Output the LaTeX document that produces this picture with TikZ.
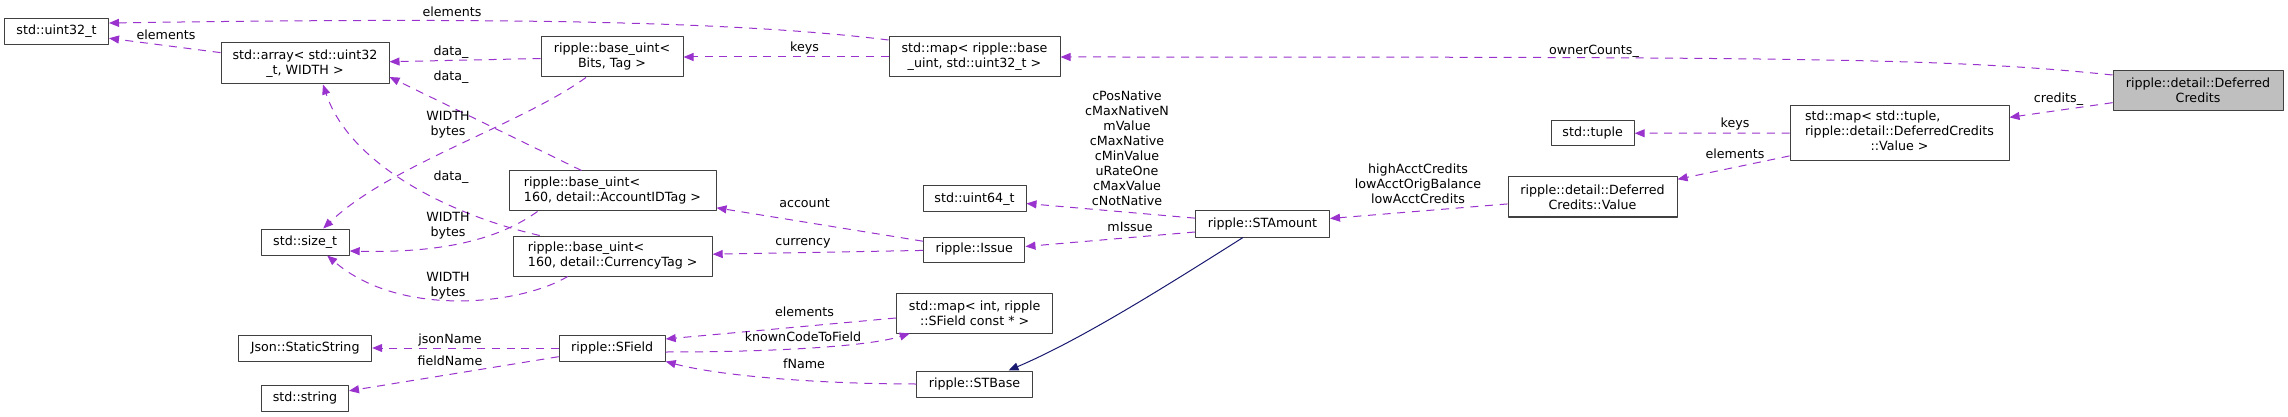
\documentclass[tikz,border=0pt]{standalone}
\usepackage{fontspec}
\setmainfont{DejaVu Sans}
\usetikzlibrary{calc,arrows.meta}
\definecolor{edgepurple}{RGB}{154,50,205}
\definecolor{navyline}{RGB}{25,25,112}
\definecolor{boxgray}{RGB}{64,64,64}
\definecolor{focusgray}{RGB}{191,191,191}

\begin{document}
\begin{tikzpicture}[x=0.75pt,y=-0.75pt,line join=round,
    cls/.style={draw=boxgray,fill=white,line width=0.75pt,inner sep=0pt,align=center,
      minimum height=19.5pt,font=\fontsize{9.5}{11.25}\selectfont},
    lbl/.style={inner sep=0pt,align=center,font=\fontsize{9.5}{11.25}\selectfont},
    dep/.style={draw=edgepurple,line width=0.75pt,dash pattern=on 6pt off 5pt,
      -{Triangle[length=7.5pt,width=6pt]}},
    inh/.style={draw=navyline,line width=0.75pt,-{Triangle[length=7.5pt,width=6pt]}}]
        \useasboundingbox (0,0) rectangle (2288,417);
        % classes
        \node[cls,minimum width=78pt] (uint32) at (56.5,31.5) {std::uint32\_t};
        \node[cls,minimum width=126pt,minimum height=30.75pt] (stdarray) at (305,63.5) {std::array< std::uint32\\\_t, WIDTH >};
        \node[cls,minimum width=106.5pt,minimum height=30pt] (bitsuint) at (612,57) {ripple::base\_uint<\\Bits, Tag >};
        \node[cls,minimum width=128.25pt,minimum height=30pt] (mapuint) at (974.5,57) {std::map< ripple::base\\\_uint, std::uint32\_t >};
        \node[cls,minimum width=155.25pt,minimum height=30pt,align=left] (acctuint) at (612.5,191) {ripple::base\_uint<\\ 160, detail::AccountIDTag >};
        \node[cls,minimum width=149.25pt,minimum height=30pt,align=left] (curuint) at (612.7,256) {ripple::base\_uint<\\ 160, detail::CurrencyTag >};
        \node[cls,minimum width=66pt] (sizet) at (305.2,242) {std::size\_t};
        \node[cls,minimum width=99.75pt] (jsonstr) at (305.2,348) {Json::StaticString};
        \node[cls,minimum width=65.25pt] (stdstring) at (305,398) {std::string};
        \node[cls,minimum width=77.25pt] (uint64) at (974.5,199) {std::uint64\_t};
        \node[cls,minimum width=76pt,minimum height=18.75pt] (issue) at (974.3,249.5) {ripple::Issue};
        \node[cls,minimum width=117.4pt,minimum height=30pt] (mapsfield) at (974.7,313) {std::map< int, ripple\\::SField const * >};
        \node[cls,minimum width=79.5pt] (sfield) at (612.2,348) {ripple::SField};
        \node[cls,minimum width=86.6pt] (stbase) at (974.5,384) {ripple::STBase};
        \node[cls,minimum width=100.5pt] (stamount) at (1262.5,224) {ripple::STAmount};
        \node[cls,minimum width=62.25pt,minimum height=18.75pt] (tuple) at (1592.7,133.3) {std::tuple};
        \node[cls,minimum width=126.75pt,minimum height=30pt] (dcvalue) at (1592.5,197) {ripple::detail::Deferred\\Credits::Value};
        \node[cls,minimum width=164.25pt,minimum height=41pt] (maptuple) at (1899.5,133)
          {\begin{tabular}{@{}c@{}}\multicolumn{1}{@{}l@{}}{std::map< std::tuple,}\\ripple::detail::DeferredCredits\\::Value >\end{tabular}};
        \node[cls,fill=focusgray,minimum width=127.5pt,minimum height=29.7pt] (deferred) at (2198,90.5) {ripple::detail::Deferred\\Credits};
        % members
        \draw[dep] (stdarray) -- (uint32) node[lbl] (lelem1) at (166,35) {elements};
        \draw[dep] ($(mapuint.west)+(0,-17)$) .. controls (720,19) and (450,18) .. ($(uint32.east)+(0,-8.5)$)
          node[lbl] (lelem2) at (452,12) {elements};
        \draw[dep] (bitsuint) -- (stdarray) node[lbl] (ldata1) at (451,52) {data\_};
        \draw[dep] ($(acctuint.north)+(-31,0)$) -- ($(stdarray.east)+(0,13.5)$) node[lbl] (ldata2) at (451,77) {data\_};
        \draw[dep] ($(curuint.north)+(-73,0)$) .. controls (450,215) and (350,165) .. ($(stdarray.south)+(18,0)$)
          node[lbl] (ldata3) at (451,177) {data\_};
        \draw[dep] ($(bitsuint.south)+(-26,0)$) .. controls (520,125) and (390,165) .. ($(sizet.north)+(18,0)$)
          node[lbl] (lwidth1) at (448,125) {WIDTH\\bytes};
        \draw[dep] ($(acctuint.south)+(-75,0)$) .. controls (495,242) and (435,253) .. ($(sizet.east)+(0,9)$)
          node[lbl] (lwidth2) at (448,225.5) {WIDTH\\bytes};
        \draw[dep] ($(curuint.south)+(-45,0)$) .. controls (520,305) and (400,318) .. ($(sizet.south)+(22,0)$)
          node[lbl] (lwidth3) at (448,285.5) {WIDTH\\bytes};
        \draw[dep] (mapuint) -- (bitsuint) node[lbl] (lkeys1) at (804.5,48) {keys};
        \draw[dep] ($(deferred.west)+(0,-15.5)$) .. controls (1950,58) and (1800,57) .. (mapuint.east)
          node[lbl] (lowner) at (1594,51) {ownerCounts\_};
        \draw[dep] (deferred) -- (maptuple) node[lbl] (lcredits) at (2058.5,99) {credits\_};
        \draw[dep] (maptuple) -- (tuple) node[lbl] (lkeys2) at (1735,124) {keys};
        \draw[dep] (maptuple) -- (dcvalue) node[lbl] (lelem3) at (1735,154) {elements};
        \draw[dep] (dcvalue) -- (stamount) node[lbl] (lacctcred) at (1418,183.5)
          {highAcctCredits\\lowAcctOrigBalance\\lowAcctCredits};
        \draw[dep] (stamount) -- (uint64) node[lbl] (lconsts) at (1127,148)
          {cPosNative\\cMaxNativeN\\mValue\\cMaxNative\\cMinValue\\uRateOne\\cMaxValue\\cNotNative};
        \draw[dep] ($(stamount.west)+(0,8)$) -- ($(issue.east)+(0,-3)$) node[lbl] (lissue) at (1130,227) {mIssue};
        \draw[dep] (issue) -- (acctuint) node[lbl] (lacct) at (804.5,203) {account};
        \draw[dep] (issue) -- (curuint) node[lbl] (lcur) at (803,243) {currency};
        \draw[dep] ($(mapsfield.west)+(0,5)$) -- ($(sfield.east)+(0,-9)$) node[lbl] (lelem4) at (804.5,312) {elements};
        \draw[dep] ($(sfield.east)+(0,4)$) .. controls (780,352) and (870,346) .. ($(mapsfield.south)+(-65,0)$)
          node[lbl] (lknown) at (803,337) {knownCodeToField};
        \draw[dep] (stbase.west) .. controls (820,384) and (720,376) .. (sfield.south east)
          node[lbl] (lfname) at (804,364) {fName};
        \draw[dep] (sfield) -- (jsonstr) node[lbl] (ljson) at (450,340) {jsonName};
        \draw[dep] (sfield) -- (stdstring) node[lbl] (lfield) at (450,361) {fieldName};
        % base class
        \draw[inh] ($(stamount.south)+(-19.5,0)$) .. controls (1160,290) and (1080,340) .. ($(stbase.north)+(34,0)$);
      \end{tikzpicture}
\end{document}
